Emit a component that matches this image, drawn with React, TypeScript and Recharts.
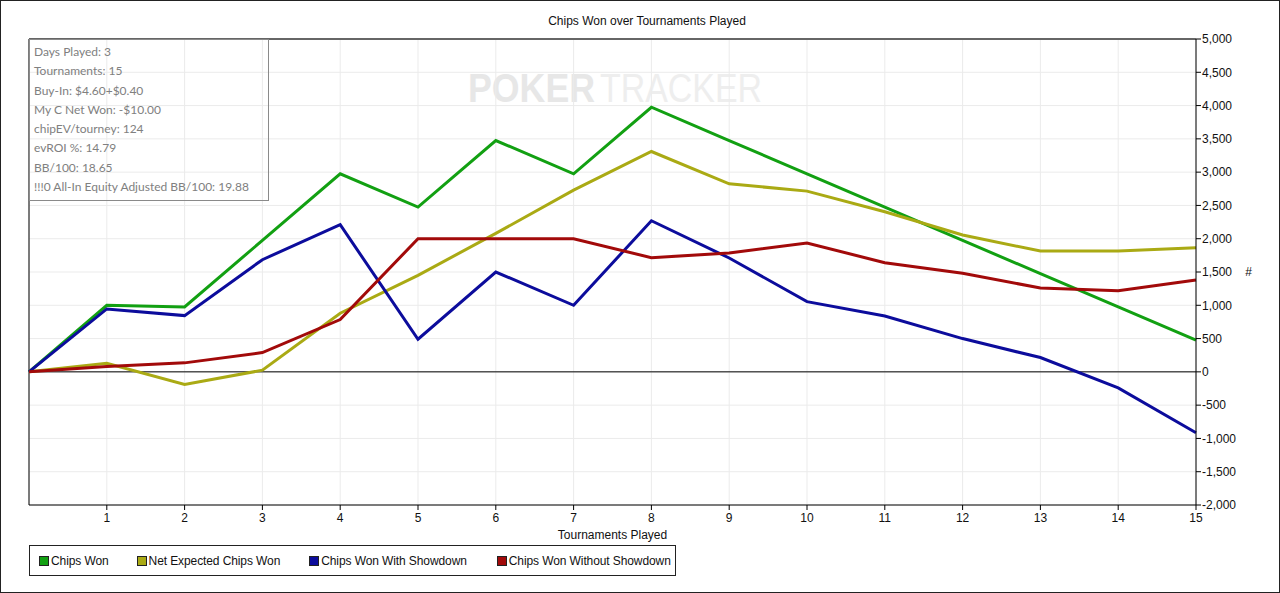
import React from "react";
import {
  LineChart,
  Line,
  XAxis,
  YAxis,
  CartesianGrid,
  ReferenceLine,
} from "recharts";

const tournaments = [0, 1, 2, 3, 4, 5, 6, 7, 8, 9, 10, 11, 12, 13, 14, 15];
const chipsWon = [0, 1000, 975, 1975, 2975, 2475, 3475, 2975, 3975, 3475, 2975, 2475, 1975, 1475, 975, 475];
const netExpected = [0, 130, -190, 25, 880, 1450, 2080, 2730, 3310, 2825, 2715, 2405, 2055, 1815, 1815, 1865];
const withShowdown = [0, 945, 845, 1685, 2210, 490, 1500, 1000, 2270, 1710, 1055, 840, 500, 215, -240, -915];
const withoutShowdown = [0, 80, 135, 290, 785, 2000, 2000, 2000, 1715, 1785, 1935, 1640, 1480, 1260, 1220, 1380];

const xTicks = [1, 2, 3, 4, 5, 6, 7, 8, 9, 10, 11, 12, 13, 14, 15];
const yTicks = [-2000, -1500, -1000, -500, 0, 500, 1000, 1500, 2000, 2500, 3000, 3500, 4000, 4500, 5000];

const statLines = [
  "Days Played: 3",
  "Tournaments: 15",
  "Buy-In: $4.60+$0.40",
  "My C Net Won: -$10.00",
  "chipEV/tourney: 124",
  "evROI %: 14.79",
  "BB/100: 18.65",
  "!!!0 All-In Equity Adjusted BB/100: 19.88",
];

const series = [
  { key: "chipsWon", name: "Chips Won", color: "#12a012", values: chipsWon },
  { key: "netExpected", name: "Net Expected Chips Won", color: "#aaaa14", values: netExpected },
  { key: "withShowdown", name: "Chips Won With Showdown", color: "#0c0c9c", values: withShowdown },
  { key: "withoutShowdown", name: "Chips Won Without Showdown", color: "#a20a0a", values: withoutShowdown },
];

const data = tournaments.map((t, i) => {
  const row: Record<string, number> = { t };
  series.forEach((s) => {
    row[s.key] = s.values[i];
  });
  return row;
});

const FONT = "'Liberation Sans', Arial, sans-serif";

export default function App() {
  return (
    <div
      style={{
        position: "relative",
        width: 1280,
        height: 593,
        boxSizing: "border-box",
        border: "1px solid #222",
        background: "#fff",
        fontFamily: FONT,
        overflow: "hidden",
      }}
    >
      <style>{"body{margin:0}"}</style>

      {/* watermark */}
      <svg
        width={1280}
        height={593}
        style={{ position: "absolute", left: -1, top: -1 }}
      >
        <text
          x={468}
          y={102}
          fontSize={41}
          fontWeight="bold"
          fill="#e7e7e7"
          fontFamily={FONT}
          textLength={127}
          lengthAdjust="spacingAndGlyphs"
        >
          POKER
        </text>
        <text
          x={600}
          y={102}
          fontSize={41}
          fill="#eeeeee"
          fontFamily={FONT}
          textLength={162}
          lengthAdjust="spacingAndGlyphs"
        >
          TRACKER
        </text>
      </svg>

      <div
        style={{
          position: "absolute",
          left: -1,
          top: 13,
          width: 1294,
          textAlign: "center",
          fontSize: 12,
          color: "#111",
        }}
      >
        Chips Won over Tournaments Played
      </div>

      <div style={{ position: "absolute", left: -1, top: -1 }}>
        <LineChart
          width={1280}
          height={593}
          data={data}
          margin={{ top: 39, right: 10, left: 29, bottom: 48 }}
        >
          <CartesianGrid stroke="#ebebeb" strokeWidth={1} />
          <XAxis
            dataKey="t"
            type="number"
            domain={[0, 15]}
            ticks={xTicks}
            height={40}
            tickSize={5}
            tickMargin={3}
            axisLine={{ stroke: "#000" }}
            tickLine={{ stroke: "#000" }}
            tick={{ fontSize: 12, fill: "#111", fontFamily: FONT }}
            label={{
              value: "Tournaments Played",
              position: "insideBottom",
              offset: 6,
              fontSize: 12,
              fill: "#111",
              fontFamily: FONT,
            }}
          />
          <YAxis
            orientation="right"
            type="number"
            domain={[-2000, 5000]}
            ticks={yTicks}
            width={74}
            tickSize={5}
            tickMargin={1}
            interval={0}
            axisLine={{ stroke: "#000" }}
            tickLine={{ stroke: "#000" }}
            tick={{ fontSize: 12, fill: "#111", fontFamily: FONT, textAnchor: "start" }}
            tickFormatter={(v: number) => v.toLocaleString("en-US")}
            label={{
              value: "#",
              position: "insideRight",
              offset: 18,
              fontSize: 12,
              fill: "#111",
              fontFamily: FONT,
            }}
          />
          <ReferenceLine y={5000} stroke="#666" strokeWidth={2} />
          <ReferenceLine y={0} stroke="#000" strokeWidth={1} />
          <ReferenceLine x={0} stroke="#000" strokeWidth={1} />
          {series.map((s) => (
            <Line
              key={s.key}
              dataKey={s.key}
              name={s.name}
              type="linear"
              stroke={s.color}
              strokeWidth={3}
              dot={false}
              activeDot={false}
              isAnimationActive={false}
            />
          ))}
        </LineChart>
      </div>

      {/* stats box */}
      <div
        style={{
          position: "absolute",
          left: 28,
          top: 38,
          width: 240,
          height: 162,
          boxSizing: "border-box",
          border: "1px solid #8a8a8a",
          fontFamily: "Lato, 'Open Sans', sans-serif",
          fontSize: 12,
          color: "#808080",
          paddingTop: 2,
          paddingLeft: 4,
        }}
      >
        {statLines.map((line) => (
          <div key={line} style={{ height: 19.3, lineHeight: "19.3px" }}>
            {line}
          </div>
        ))}
      </div>

      {/* legend */}
      <div
        style={{
          position: "absolute",
          left: 28,
          top: 544,
          width: 647,
          height: 31,
          boxSizing: "border-box",
          border: "1px solid #222",
          display: "flex",
          alignItems: "center",
          fontSize: 12,
          color: "#111",
          whiteSpace: "nowrap",
        }}
      >
        {series.map((s, i) => (
          <div
            key={s.key}
            style={{
              display: "flex",
              alignItems: "center",
              flexShrink: 0,
              marginLeft: [9, 28, 29, 30][i],
              letterSpacing: -0.1,
            }}
          >
            <span
              style={{
                display: "inline-block",
                width: 8,
                height: 8,
                background: s.color,
                border: "1px solid #222",
                marginRight: 2,
              }}
            />
            <span>{s.name}</span>
          </div>
        ))}
      </div>
    </div>
  );
}
